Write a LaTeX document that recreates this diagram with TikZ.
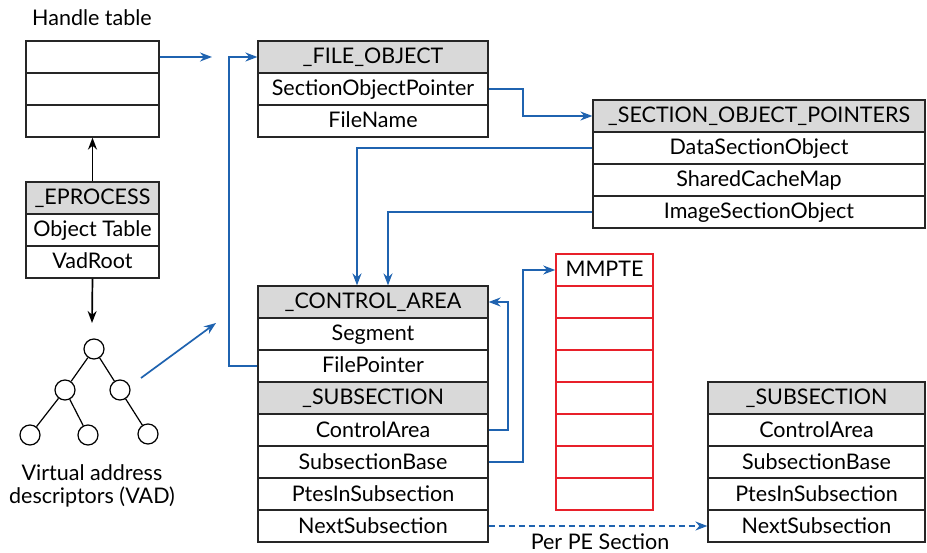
\documentclass[tikz,border=0pt]{standalone}
\usepackage{fontspec}
\setmainfont{Lato}
\usetikzlibrary{arrows.meta}
\definecolor{lblue}{HTML}{1F63B0}
\definecolor{hdr}{HTML}{D9D9D9}
\definecolor{mred}{HTML}{E8202A}
\begin{document}
\begin{tikzpicture}[x=1pt,y=-1pt,
  cell/.style={draw=black!85, line width=1.2pt, minimum height=32pt, inner sep=0pt, font=\fontsize{21.5}{23}\selectfont, text height=14pt, text depth=0pt},
  hcell/.style={cell, fill=hdr},
  rcell/.style={draw=mred, line width=1.6pt, minimum height=32pt, minimum width=97pt, inner sep=0pt, font=\fontsize{21.5}{23}\selectfont, text height=14pt, text depth=0pt},
  vad/.style={circle, draw, line width=1.2pt, minimum size=20pt, inner sep=0pt},
  barrow/.style={draw=lblue, line width=1.7pt, -{Stealth[length=12pt,width=9pt]}},
  karrow/.style={draw=black, line width=1.7pt, -{Stealth[length=12pt,width=9pt]}},
  lbl/.style={font=\fontsize{21.5}{23}\selectfont, inner sep=0pt}
]
\useasboundingbox (0,0) rectangle (927,553);

% Handle table
\node[lbl] (htl) at (92,18) {Handle table};
\node[cell, minimum width=133pt] (ht1) at (92.5,57) {};
\node[cell, minimum width=133pt] (ht2) at (92.5,89) {};
\node[cell, minimum width=133pt] (ht3) at (92.5,121) {};

% EPROCESS
\node[hcell, minimum width=133pt] (ep1) at (92.5,198) {\_EPROCESS};
\node[cell, minimum width=133pt] (ep2) at (92.5,230) {Object Table};
\node[cell, minimum width=133pt] (ep3) at (92.5,262) {VadRoot};

% VAD tree
\node[vad] (v0) at (94,349) {};
\node[vad] (v1) at (65,390) {};
\node[vad] (v2) at (120,390) {};
\node[vad] (v3) at (30,435) {};
\node[vad] (v4) at (88,435) {};
\node[vad] (v5) at (148,434) {};
\draw[line width=1.2pt] (v0) -- (v1) (v0) -- (v2) (v1) -- (v3) (v1) -- (v4) (v2) -- (v5);
\node[lbl, align=center] (vadl) at (92,486) {Virtual address\\[0pt]descriptors (VAD)};
\coordinate (vadtop) at (92,323);

\draw[karrow] (ep1.north) -- (ht3.south);
\draw[karrow] (ep3.south) -- (vadtop);

% FILE_OBJECT
\node[hcell, minimum width=230pt] (fo1) at (373,57) {\_FILE\_OBJECT};
\node[cell, minimum width=230pt] (fo2) at (373,89) {SectionObjectPointer};
\node[cell, minimum width=230pt] (fo3) at (373,121) {FileName};

% SECTION_OBJECT_POINTERS
\node[hcell, minimum width=332pt] (sp1) at (759,116) {\_SECTION\_OBJECT\_POINTERS};
\node[cell, minimum width=332pt] (sp2) at (759,148) {DataSectionObject};
\node[cell, minimum width=332pt] (sp3) at (759,180) {SharedCacheMap};
\node[cell, minimum width=332pt] (sp4) at (759,212) {ImageSectionObject};

% CONTROL_AREA + SUBSECTION
\node[hcell, minimum width=230pt] (ca1) at (373,302) {\_CONTROL\_AREA};
\node[cell, minimum width=230pt] (ca2) at (373,334) {Segment};
\node[cell, minimum width=230pt] (ca3) at (373,366) {FilePointer};
\node[hcell, minimum width=230pt] (ss1) at (373,398) {\_SUBSECTION};
\node[cell, minimum width=230pt] (ss2) at (373,430) {ControlArea};
\node[cell, minimum width=230pt] (ss3) at (373,462) {SubsectionBase};
\node[cell, minimum width=230pt] (ss4) at (373,494) {PtesInSubsection};
\node[cell, minimum width=230pt] (ss5) at (373,526) {NextSubsection};

% right SUBSECTION
\node[hcell, minimum width=217pt] (rs1) at (816.5,398) {\_SUBSECTION};
\node[cell, minimum width=217pt] (rs2) at (816.5,430) {ControlArea};
\node[cell, minimum width=217pt] (rs3) at (816.5,462) {SubsectionBase};
\node[cell, minimum width=217pt] (rs4) at (816.5,494) {PtesInSubsection};
\node[cell, minimum width=217pt] (rs5) at (816.5,526) {NextSubsection};

% MMPTE
\node[rcell] (m1) at (604.5,270) {MMPTE};
\foreach \i/\y in {2/302,3/334,4/366,5/398,6/430,7/462,8/494}
  \node[rcell] (m\i) at (604.5,\y) {};

% blue connectors
\coordinate (htend) at (212,57);
\draw[barrow] (ht1.east) -- (htend);
\draw[barrow] (ca3.west) -- (229,366) |- (fo1.west);
\draw[barrow] (fo2.east) -- (523,89) |- (sp1.west);
\draw[barrow] (sp2.west) -| ([xshift=-16pt]ca1.north);
\draw[barrow] (sp4.west) -| ([xshift=15pt]ca1.north);
\coordinate (vadend) at (216,323);
\coordinate (vadstart) at (141,378);
\draw[barrow] (vadstart) -- (vadend);
\draw[barrow] (ss2.east) -- (508,430) |- (ca1.east);
\draw[barrow] (ss3.east) -- (523,462) |- (m1.west);
\draw[barrow, dashed, dash pattern=on 6pt off 4pt] (ss5.east) -- (rs5.west);
\node[lbl, anchor=base] (pel) at (600,549) {Per PE Section};
\end{tikzpicture}
\end{document}
